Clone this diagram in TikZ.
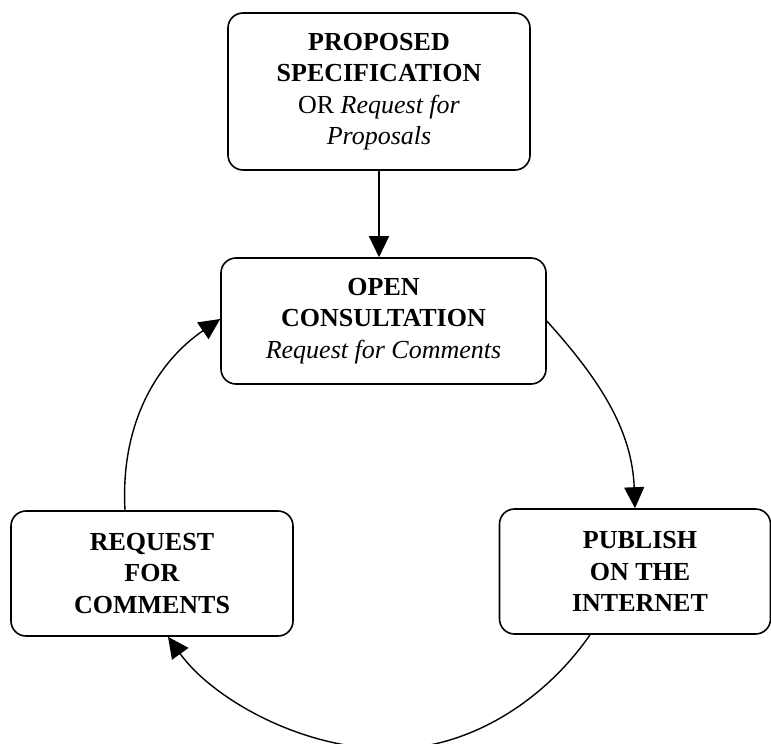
\documentclass[tikz,border=0pt]{standalone}
\usepackage{fontspec}
\setmainfont{Liberation Serif}
\usetikzlibrary{arrows.meta}
\begin{document}
\begin{tikzpicture}[x=1pt,y=-1pt,
  box/.style={draw, line width=1.6pt, rounded corners=15pt, align=center,
    font=\fontsize{26pt}{31.5pt}\selectfont, inner sep=0pt},
  conn/.style={line width=1.4pt, -{Triangle[length=21pt,width=20pt]}}]
\useasboundingbox (0,0) rectangle (771,744);
\node[box, minimum width=302pt, minimum height=157pt] (b1) at (379,91.5)
  {\textbf{PROPOSED}\\\textbf{SPECIFICATION}\\OR \textit{Request for}\\\textit{Proposals}};
\node[box, minimum width=325pt, minimum height=126pt] (b2) at (383.5,321)
  {\textbf{OPEN}\\\textbf{CONSULTATION}\\\textit{Request for Comments}};
\node[box, minimum width=282pt, minimum height=125pt] (b3) at (152,573.5)
  {\textbf{REQUEST}\\\textbf{FOR}\\\textbf{COMMENTS}};
\node[box, minimum width=271pt, minimum height=125pt] (b4) at (635,571.5)
  {\hspace*{10pt}\textbf{PUBLISH}\\\hspace*{10pt}\textbf{ON THE}\\\hspace*{10pt}\textbf{INTERNET}};
\coordinate (bot) at (390,749);
\draw[conn] (b1.south) -- (b1.south |- b2.north);
\draw[conn] (b2.east) .. controls (600,380) and (632,430) .. (b4.north);
\draw[line width=1.4pt] ([xshift=-45pt]b4.south) .. controls (545,700) and (470,749) .. (bot);
\draw[conn] (bot) .. controls (300,749) and (212,698) .. ([xshift=16pt]b3.south);
\draw[conn] ([xshift=-27pt]b3.north) .. controls (120,420) and (160,360) .. ([yshift=2pt]b2.west);
\end{tikzpicture}
\end{document}
